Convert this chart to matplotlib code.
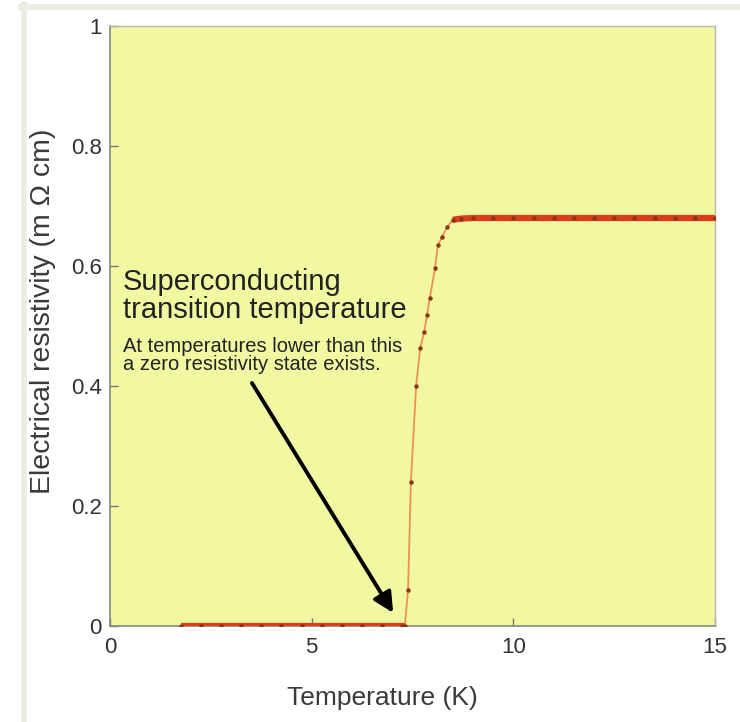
import matplotlib
matplotlib.use("Agg")
from matplotlib import pyplot as plt
from matplotlib.lines import Line2D

plt.rcParams["font.family"] = ["Liberation Sans", "DejaVu Sans"]

# Resistivity vs temperature
temperature = [1.75, 2.25, 2.75, 3.25, 3.75, 4.25, 4.75, 5.25, 5.75, 6.25, 6.75, 7.25, 7.31,
               7.39, 7.46, 7.59, 7.69, 7.79, 7.86, 7.93, 8.06, 8.13, 8.23, 8.36, 8.5,
               8.7, 9.0, 9.5, 10.0, 10.5, 11.0, 11.5, 12.0, 12.5, 13.0, 13.5, 14.0, 14.5, 15.0]
resistivity = [0.0, 0.0, 0.0, 0.0, 0.0, 0.0, 0.0, 0.0, 0.0, 0.0, 0.0, 0.0, 0.0,
               0.06, 0.24, 0.40, 0.463, 0.49, 0.518, 0.547, 0.597, 0.635, 0.648, 0.665, 0.677,
               0.679, 0.68, 0.68, 0.68, 0.68, 0.68, 0.68, 0.68, 0.68, 0.68, 0.68, 0.68, 0.68, 0.68]

x_ticks = [0, 5, 10, 15]
y_ticks = [0, 0.2, 0.4, 0.6, 0.8, 1.0]
y_tick_labels = ["0", "0.2", "0.4", "0.6", "0.8", "1"]

title_lines = ["Superconducting", "transition temperature"]
note_lines = ["At temperatures lower than this", "a zero resistivity state exists."]

fig = plt.figure(figsize=(7.4, 7.22), dpi=100, facecolor="white")

# light grey frame strips along top and left edge of the picture
fig.add_artist(Line2D([21 / 740, 1.0], [1 - 6.5 / 722, 1 - 6.5 / 722], color="#ecece3", lw=4.5,
                      transform=fig.transFigure, zorder=-1))
fig.add_artist(Line2D([23.5 / 740, 23.5 / 740], [0, 1 - 4 / 722], color="#ecece3", lw=4,
                      transform=fig.transFigure, zorder=-1))

ax = fig.add_axes([110 / 740, 1 - 626 / 722, 605 / 740, 600 / 722])
ax.set_facecolor("#f2f7a2")

# thin line + dark dots for the whole curve, thicker red band on the flat parts
ax.plot(temperature, resistivity, color="#f09050", lw=1.3, zorder=3)
flat_low = [(t, r) for t, r in zip(temperature, resistivity) if r < 0.01]
flat_high = [(t, r) for t, r in zip(temperature, resistivity) if r > 0.676]
for seg in (flat_low, flat_high):
    ax.plot([p[0] for p in seg], [p[1] for p in seg], color="#dc3c1e", lw=4.5,
            solid_capstyle="butt", zorder=4)
ax.plot(temperature, resistivity, linestyle="none", marker="o", ms=3.2,
        mfc="#8a3418", mec="none", zorder=5)

ax.set_xlim(0, 15)
ax.set_ylim(0, 1)
ax.set_xticks(x_ticks)
ax.set_yticks(y_ticks)
ax.set_yticklabels(y_tick_labels)
ax.tick_params(direction="in", length=6, width=1, color="#777770", labelcolor="#333333",
               labelsize=16, pad=6)
ax.tick_params(axis="x", pad=8)

for side in ["left", "bottom"]:
    ax.spines[side].set_color("#888880")
    ax.spines[side].set_linewidth(1.2)
for side in ["top", "right"]:
    ax.spines[side].set_color("#b8b8b0")
    ax.spines[side].set_linewidth(1.0)

ax.set_xlabel("Temperature (K)", fontsize=19, color="#3a3a3a")
ax.set_ylabel("Electrical resistivity (m \u03a9 cm)", fontsize=20.5, color="#3a3a3a")
ax.xaxis.set_label_coords(0.45, -0.1)
ax.yaxis.set_label_coords(-0.09, 0.525)

ax.text(0.32, 0.56, title_lines[0], fontsize=21, color="#222222", va="baseline")
ax.text(0.32, 0.513, title_lines[1], fontsize=21, color="#222222", va="baseline")
ax.text(0.32, 0.457, note_lines[0], fontsize=14.5, color="#222222", va="baseline")
ax.text(0.32, 0.427, note_lines[1], fontsize=14.5, color="#222222", va="baseline")

ax.annotate("", xy=(7.02, 0.022), xytext=(3.52, 0.405),
            arrowprops=dict(arrowstyle="-|>", color="black", lw=2.8, mutation_scale=30,
                            shrinkA=0, shrinkB=0))

fig.savefig("out.png", dpi=100, facecolor="white")
